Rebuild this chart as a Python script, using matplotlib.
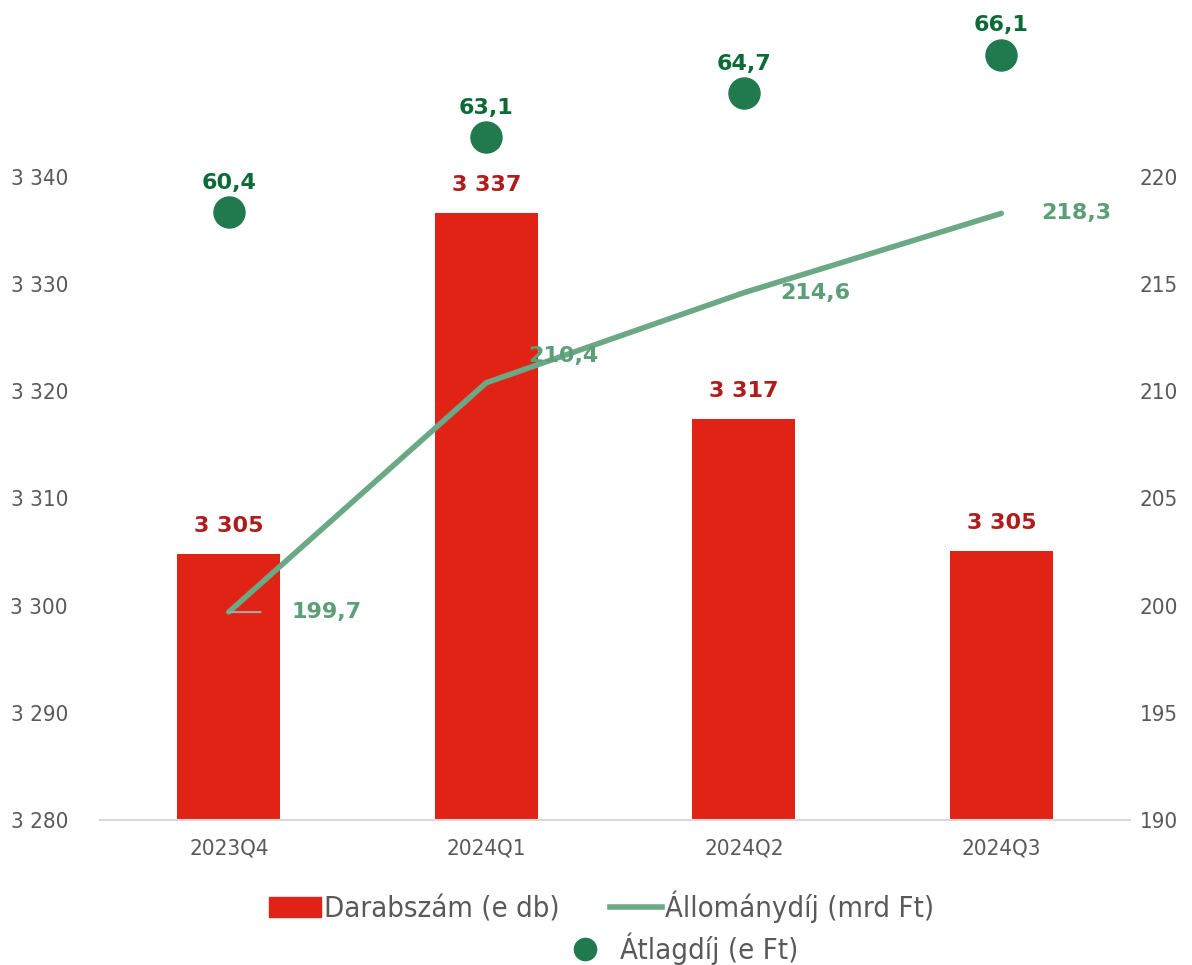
import matplotlib
matplotlib.use("Agg")
import matplotlib.pyplot as plt
from matplotlib.patches import Patch
from matplotlib.lines import Line2D
import numpy as np

# data
quarters = ["2023Q4", "2024Q1", "2024Q2", "2024Q3"]
darabszam = [3304.8, 3336.6, 3317.4, 3305.1]   # e db
allomanydij = [199.7, 210.4, 214.6, 218.3]     # mrd Ft
atlagdij = [60.4, 63.1, 64.7, 66.1]            # e Ft

RED = "#e12316"
RED_TXT = "#b01c1c"
LINE = "#6aa886"
LINE_TXT = "#5c9e78"
DOT = "#217a4e"
DOT_TXT = "#0b6b36"
TICK = "#595959"


def hu(v, dec=0):
    s = f"{v:,.{dec}f}"
    return s.replace(",", " ").replace(".", ",")


fig = plt.figure(figsize=(11.92, 9.65), dpi=100)
ax = fig.add_axes([0.0839, 0.1503, 0.8641, 0.6663])
ax2 = ax.twinx()
ax3 = ax.twinx()

x = np.arange(len(quarters))

ax.bar(x, darabszam, width=0.4, color=RED, zorder=2)
ax.set_ylim(3280, 3340)
ax.set_yticks(np.arange(3280, 3341, 10))
ax.set_yticklabels([hu(v) for v in np.arange(3280, 3341, 10)])
ax.set_xlim(-0.5, len(quarters) - 0.5)
ax.set_xticks(x)
ax.set_xticklabels(quarters)

ax2.plot(x, allomanydij, color=LINE, lw=4, solid_capstyle="round", zorder=3)
ax2.set_ylim(190, 220)
ax2.set_yticks(np.arange(190, 221, 5))

ax3.scatter(x, atlagdij, s=500, color=DOT, zorder=4, clip_on=False)
ax3.set_ylim(38.41, 61.67)
ax3.set_yticks([])

for a in (ax, ax2, ax3):
    for s in a.spines.values():
        s.set_visible(False)
ax.spines["bottom"].set_visible(True)
ax.spines["bottom"].set_color("#d9d9d9")
ax.spines["bottom"].set_linewidth(1.5)
ax.tick_params(axis="both", length=0, colors=TICK, labelsize=16)
ax.tick_params(axis="x", pad=13)
ax.tick_params(axis="y", pad=23)
ax2.tick_params(axis="y", length=0, colors=TICK, labelsize=16, pad=7)
for lab in ax.get_xticklabels() + ax.get_yticklabels() + ax2.get_yticklabels():
    lab.set_fontstretch("condensed")

# bar labels
for xi, v in zip(x, darabszam):
    ax.annotate(hu(v), (xi, v), xytext=(0, 13), textcoords="offset points",
                ha="center", va="bottom", color=RED_TXT, fontsize=16,
                fontweight="bold")

# line labels (offsets in points)
line_off = [(45, 0), (30, 19), (26, 0), (29, 0)]
for xi, v, off in zip(x, allomanydij, line_off):
    if xi == 0:
        ax2.annotate(hu(v, 1), (xi, v), xytext=off, textcoords="offset points",
                     ha="left", va="center", color=LINE_TXT, fontsize=16,
                     fontweight="bold",
                     arrowprops=dict(arrowstyle="-", color="#a6a6a6", lw=1.5,
                                     shrinkA=20, shrinkB=0,
                                     relpos=(0, 0.5)))
    else:
        ax2.annotate(hu(v, 1), (xi, v), xytext=off,
                     textcoords="offset points", ha="left", va="center",
                     color=LINE_TXT, fontsize=16, fontweight="bold")

# dot labels
for xi, v in zip(x, atlagdij):
    ax3.annotate(hu(v, 1), (xi, v), xytext=(0, 14), textcoords="offset points",
                 ha="center", va="bottom", color=DOT_TXT, fontsize=16,
                 fontweight="bold", annotation_clip=False)

# legend
h1 = [Patch(color=RED), Line2D([], [], color=LINE, lw=4)]
leg1 = fig.legend(h1, ["Darabszám (e db)", "Állománydíj (mrd Ft)"],
                  loc="center", bbox_to_anchor=(0.5046, 0.06), ncol=2,
                  frameon=False, handlelength=1.8, handletextpad=0.1,
                  columnspacing=1.7, borderpad=0, borderaxespad=0,
                  prop={"size": 21, "stretch": "condensed"})
for t in leg1.get_texts():
    t.set_color(TICK)
h2 = [Line2D([], [], ls="", marker="o", ms=16, color=DOT)]
leg2 = fig.legend(h2, ["Átlagdíj (e Ft)"], loc="center",
                  bbox_to_anchor=(0.574, 0.017), frameon=False,
                  handlelength=1.0, handletextpad=0.7, borderpad=0,
                  borderaxespad=0,
                  prop={"size": 21, "stretch": "condensed"})
for t in leg2.get_texts():
    t.set_color(TICK)

fig.savefig("out.png", dpi=100)
